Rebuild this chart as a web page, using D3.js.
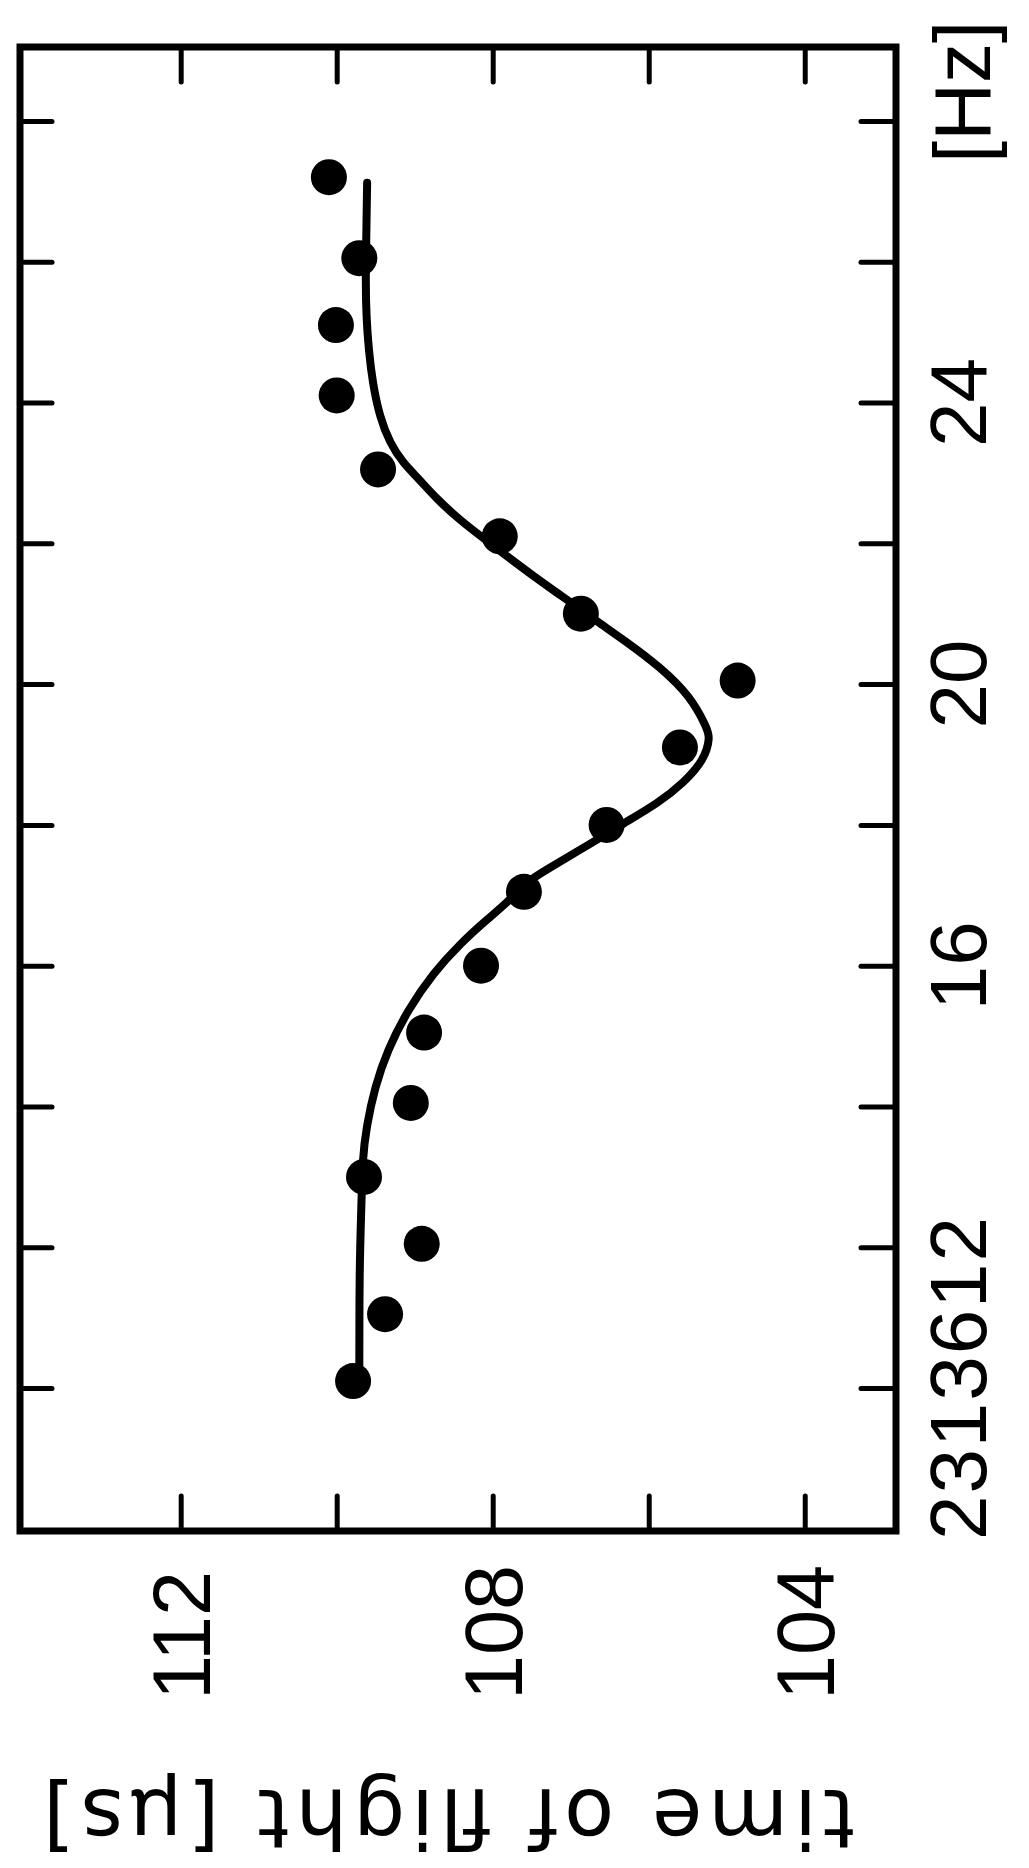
<!DOCTYPE html>
<html>
<head>
<meta charset="utf-8">
<script src="https://cdn.jsdelivr.net/npm/d3@7"></script>
<style>
  html, body { margin: 0; padding: 0; background: #fff; }
  text { font-family: "Liberation Sans", Arial, sans-serif; fill: #000; }
</style>
</head>
<body>
<svg id="chart"></svg>
<script>
const dotFreq = [27.2, 26.05, 25.1, 24.1, 23.05, 22.1, 21.0, 20.05, 19.1, 18.0, 17.05, 16.0, 15.05, 14.05, 13.0, 12.05, 11.05, 10.1];
const dotTof = [110.10, 109.71, 110.01, 110.00, 109.47, 107.91, 106.87, 104.86, 105.60, 106.54, 107.60, 108.15, 108.88, 109.05, 109.65, 108.91, 109.38, 109.79];

// Fitted curve, traced point by point
const curveFreq = [27.12, 26.41, 25.70, 25.22, 24.75, 24.28, 23.80, 23.43, 23.14, 22.93, 22.62, 22.33, 22.09, 21.81, 21.52, 21.30, 21.10, 20.91, 20.59, 20.24, 19.82, 19.39, 19.25, 18.92, 18.60, 18.31, 18.03, 17.69, 17.36, 17.18, 16.93, 16.65, 16.32, 15.90, 15.37, 14.80, 14.28, 13.71, 13.24, 12.67, 11.72, 10.09];
const curveTof = [109.61, 109.62, 109.63, 109.62, 109.59, 109.54, 109.45, 109.32, 109.15, 108.96, 108.71, 108.42, 108.14, 107.81, 107.46, 107.18, 106.92, 106.69, 106.27, 105.85, 105.46, 105.26, 105.21, 105.29, 105.55, 105.88, 106.31, 106.81, 107.32, 107.58, 107.78, 108.08, 108.41, 108.76, 109.09, 109.35, 109.51, 109.62, 109.67, 109.68, 109.71, 109.71];

// Axes ticks and labels
const tofTicks = [104, 106, 108, 110, 112];
const tofLabels = [112, 108, 104];
const freqTicks = [10, 12, 14, 16, 18, 20, 22, 24, 26, 28];
const freqLabels = [16, 20, 24];
const freqBaseLabel = "2313612";
const freqUnit = "[Hz]";
const tofTitle = "time of  flight [\u03bcs]";

const width = 1029, height = 1868;
const frame = { left: 20, right: 896, top: 47, bottom: 1531 };

const svg = d3.select("#chart").attr("width", width).attr("height", height);
svg.append("rect").attr("width", width).attr("height", height).attr("fill", "#fff");

// time of flight runs right-to-left, frequency bottom-to-top
const x = d3.scaleLinear().domain([114.06, 102.83]).range([frame.left, frame.right]);
const y = d3.scaleLinear().domain([29.05, 7.97]).range([frame.top, frame.bottom]);

// Tick marks on all four sides
function styleAxis(g) {
  g.select(".domain").remove();
  g.selectAll(".tick line").attr("stroke", "#000").attr("stroke-width", 5).attr("stroke-linecap", "round");
  g.selectAll(".tick text").remove();
}
svg.append("g").attr("transform", `translate(0,${frame.top})`)
  .call(d3.axisBottom(x).tickValues(tofTicks).tickSize(35)).call(styleAxis);
svg.append("g").attr("transform", `translate(0,${frame.bottom})`)
  .call(d3.axisTop(x).tickValues(tofTicks).tickSize(35)).call(styleAxis);
svg.append("g").attr("transform", `translate(${frame.left},0)`)
  .call(d3.axisRight(y).tickValues(freqTicks).tickSize(32)).call(styleAxis);
svg.append("g").attr("transform", `translate(${frame.right},0)`)
  .call(d3.axisLeft(y).tickValues(freqTicks).tickSize(35)).call(styleAxis);

// Frame
svg.append("rect")
  .attr("x", frame.left).attr("y", frame.top)
  .attr("width", frame.right - frame.left).attr("height", frame.bottom - frame.top)
  .attr("fill", "none").attr("stroke", "#000").attr("stroke-width", 7);

// Fit curve (smoothed through the traced points)
const line = d3.line()
  .x((d, i) => x(curveTof[i]))
  .y(d => y(d))
  .curve(d3.curveBasis);
svg.append("path")
  .datum(curveFreq)
  .attr("d", line)
  .attr("fill", "none").attr("stroke", "#000").attr("stroke-width", 8)
  .attr("stroke-linecap", "round");

// Measured points
svg.append("g").selectAll("circle")
  .data(dotFreq)
  .join("circle")
  .attr("cx", (d, i) => x(dotTof[i]))
  .attr("cy", d => y(d))
  .attr("r", 18)
  .attr("fill", "#000");

// Tick labels under the frame (rotated, read bottom-to-top)
const tofFont = 81;
svg.append("g").selectAll("text")
  .data(tofLabels)
  .join("text")
  .attr("transform", d => `translate(${x(d) + tofFont * 0.36},1700) rotate(-90)`)
  .attr("font-size", tofFont)
  .attr("text-anchor", "start")
  .text(d => d);

// Frequency labels at the right
const fFont = 80;
const labelX = 986;
svg.append("g").selectAll("text")
  .data(freqLabels)
  .join("text")
  .attr("transform", d => `translate(${labelX},${y(d)}) rotate(-90)`)
  .attr("font-size", fFont)
  .attr("text-anchor", "middle")
  .text(d => d);

svg.append("text")
  .attr("transform", `translate(${labelX},1540) rotate(-90)`)
  .attr("font-size", fFont)
  .attr("text-anchor", "start")
  .attr("textLength", 323)
  .attr("lengthAdjust", "spacing")
  .text(freqBaseLabel);

svg.append("text")
  .attr("transform", `translate(${labelX + 4},163) rotate(-90)`)
  .attr("font-size", fFont)
  .attr("text-anchor", "start")
  .text(freqUnit);

// Axis title, upside down
svg.append("text")
  .attr("transform", "translate(449,1790) rotate(180)")
  .style("font-family", "'DejaVu Sans', sans-serif")
  .attr("font-size", 82)
  .attr("text-anchor", "middle")
  .attr("textLength", 812)
  .attr("lengthAdjust", "spacing")
  .text(tofTitle);
</script>
</body>
</html>
